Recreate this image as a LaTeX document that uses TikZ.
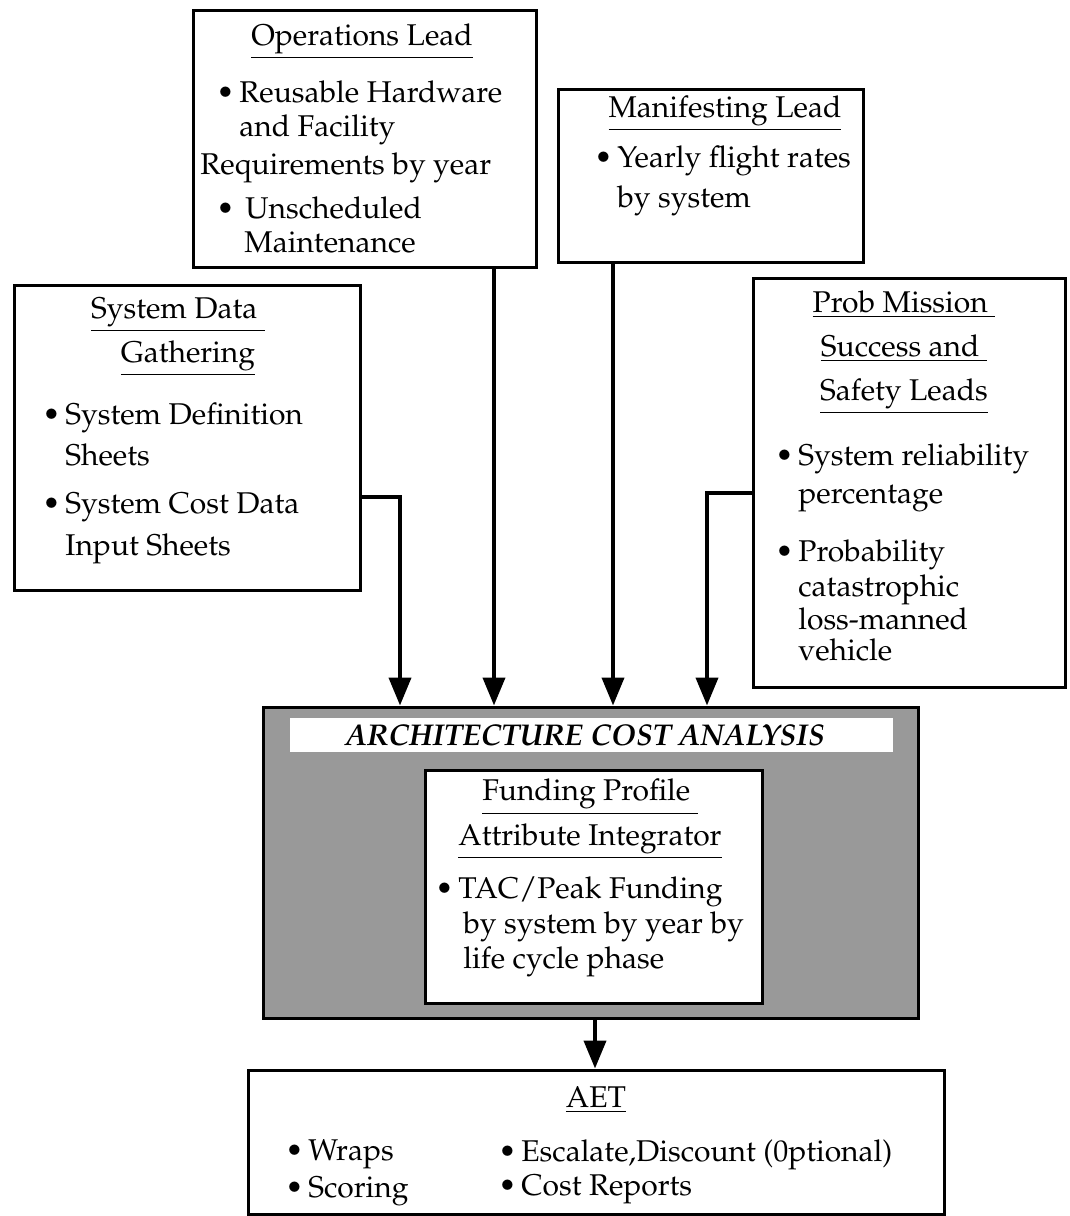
\documentclass[tikz,border=0pt]{standalone}
\usepackage[T1]{fontenc}
\usepackage{mathpazo}
\usetikzlibrary{fit,arrows.meta}

\newcommand{\bul}{\makebox[11.5pt][l]{\textbullet}}

\tikzset{
  box/.style={draw, line width=1.5pt, inner sep=0pt},
  hd/.style={anchor=base, inner sep=0pt, font=\fontsize{15}{17}\selectfont},
  body/.style={anchor=base west, align=left, inner sep=0pt, font=\fontsize{15}{17}\selectfont},
  flow/.style={line width=2pt, -{Triangle[length=14pt,width=11pt]}},
}

\begin{document}
\begin{tikzpicture}[x=0.5pt,y=-0.5pt]
    \useasboundingbox (0,0) rectangle (1070,1216);
    % operations lead
    \node[box, fit={(193,10) (536,267)}] (ops) {};
    \node[hd] (opsT) at (362,45) {\underline{Operations Lead}};
    \node[body] (opsB) at (200,252) {\hspace*{8pt}\bul Reusable Hardware\\
        \hspace*{19.5pt}and Facility\\[2pt]
        Requirements by year\\[5pt]
        \hspace*{8pt}\bul\hspace{3pt}Unscheduled\\
        \hspace*{22pt}Maintenance};
    % manifesting lead
    \node[box, fit={(558,89) (863,262)}] (man) {};
    \node[hd] (manT) at (725,117) {\underline{Manifesting Lead}};
    \node[body] (manB) at (590,207) {\hspace*{2pt}\bul Yearly flight rates\\[3pt]
        \hspace*{13.5pt}by system};
    % system data gathering
    \node[box, fit={(14,285) (360,590)}] (sys) {};
    \node[hd] (sysT) at (178,318) {\underline{System Data\ }};
    \node[hd] (sysT2) at (188,362) {\underline{Gathering}};
    \node[body] (sysB) at (42,555) {\bul System Definition\\[3.5pt]
        \hspace*{11.5pt}Sheets\\[7pt]
        \bul System Cost Data\\[4pt]
        \hspace*{11.5pt}Input Sheets};
    % prob mission success and safety leads
    \node[box, fit={(753,278) (1065,687)}] (prob) {};
    \node[hd, align=center] (probT) at (904,400) {\underline{Prob Mission\ }\\[5pt]
        \underline{Success and\ }\\[5pt]
        \underline{Safety Leads}};
    \node[body] (probB) at (775,660) {\bul System reliability\\[2pt]
        \hspace*{11.5pt}percentage\\[12pt]
        \bul Probability\\[0.5pt]
        \hspace*{11.5pt}catastrophic\\[-0.5pt]
        \hspace*{11.5pt}loss-manned\\[-1.5pt]
        \hspace*{11.5pt}vehicle};
    % architecture cost analysis
    \node[box, fit={(263,707) (918,1018)}, fill=black!40] (aca) {};
    \node[fill=white, inner sep=0pt, fit={(290,718) (893,752)}] (acaBand) {};
    \node[hd, font=\fontsize{15}{17}\selectfont\bfseries\itshape] (acaT) at (585,745) {ARCHITECTURE COST ANALYSIS};
    \node[box, fit={(425,770) (762,1003)}, fill=white] (fpai) {};
    \node[hd, align=center] (fpaiT) at (590,845) {\underline{Funding Profile\ }\\[3pt]
        \underline{Attribute Integrator}};
    \node[body] (fpaiB) at (435,968) {\bul TAC/Peak Funding\\[0.5pt]
        \hspace*{14pt}by system by year by\\[0.5pt]
        \hspace*{14pt}life cycle phase};
    % AET
    \node[box, fit={(248,1070) (944,1214)}] (aet) {};
    \node[hd] (aetT) at (596,1107) {\underline{AET}};
    \node[body] (aetL) at (285,1197) {\bul Wraps\\[1.5pt]
        \bul Scoring};
    \node[body] (aetR) at (498,1195) {\bul Escalate,Discount (0ptional)\\
        \bul Cost Reports};
    % arrows
    \coordinate (sysJ) at (400,497);
    \coordinate (probJ) at (707,493);
    \draw[flow] (sys.east |- sysJ) -| (aca.north -| sysJ);
    \draw[flow] (ops.south -| 494,0) -- (aca.north -| 494,0);
    \draw[flow] (man.south -| 613,0) -- (aca.north -| 613,0);
    \draw[flow] (prob.west |- probJ) -| (aca.north -| probJ);
    \draw[flow] (aca.south -| 595,0) -- (aet.north -| 595,0);
\end{tikzpicture}
\end{document}
